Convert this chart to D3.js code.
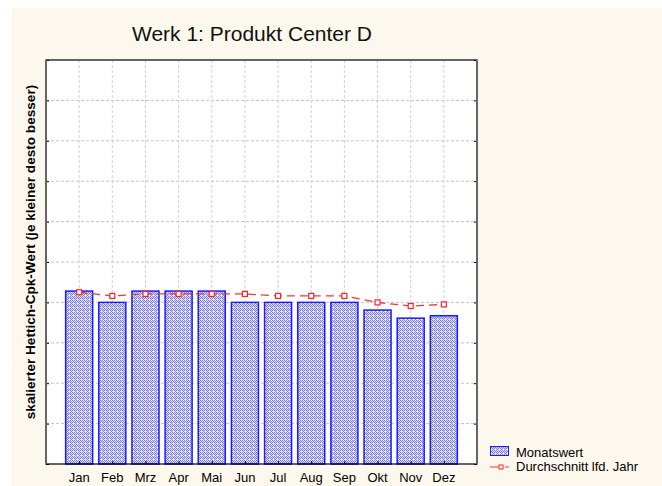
<!DOCTYPE html>
<html>
<head>
<meta charset="utf-8">
<script src="https://cdn.jsdelivr.net/npm/d3@7"></script>
<style>
body { margin: 0; background: #fff; }
svg { display: block; font-family: "Liberation Sans", Arial, sans-serif; }
</style>
</head>
<body>
<svg width="662" height="486"></svg>
<script>
var months = ["Jan", "Feb", "Mrz", "Apr", "Mai", "Jun", "Jul", "Aug", "Sep", "Okt", "Nov", "Dez"];
var monatswert = [4.28, 4.0, 4.28, 4.28, 4.28, 4.0, 4.0, 4.0, 4.0, 3.81, 3.61, 3.67];
var durchschnitt = [4.25, 4.16, 4.21, 4.21, 4.21, 4.21, 4.16, 4.16, 4.16, 4.0, 3.91, 3.95];
var yTicks = d3.range(0, 11);

var svg = d3.select("svg");
var plotLeft = 46, plotRight = 477, plotTop = 60, plotBottom = 464;

svg.append("rect").attr("x", 12).attr("y", 8).attr("width", 650).attr("height", 478).attr("fill", "#fdf8ee");
svg.append("rect").attr("x", plotLeft).attr("y", plotTop).attr("width", plotRight - plotLeft).attr("height", plotBottom - plotTop).attr("fill", "#fff");

// hatch for the bars
var defs = svg.append("defs");
var pat = defs.append("pattern").attr("id", "hatch").attr("patternUnits", "userSpaceOnUse")
	.attr("width", 4).attr("height", 4);
pat.append("rect").attr("width", 4).attr("height", 4).attr("fill", "#dadaff");
[[0,0],[1,1],[2,2],[3,3],[2,0],[3,1],[0,2]].forEach(function(p){
	pat.append("rect").attr("x", p[0]).attr("y", p[1]).attr("width", 1).attr("height", 1).attr("fill", "#7c7cf4");
});
pat.append("rect").attr("x", 1).attr("y", 3).attr("width", 1).attr("height", 1).attr("fill", "#fff");
pat.append("rect").attr("x", 3).attr("y", 0).attr("width", 1).attr("height", 1).attr("fill", "#fff");

var x = d3.scalePoint().domain(months).range([plotLeft, plotRight]).padding(1);
var y = d3.scaleLinear().domain([0, 10]).range([plotBottom, plotTop]);

// grid
svg.append("g").selectAll("line").data(yTicks.slice(1, -1)).enter().append("line")
	.attr("x1", plotLeft).attr("x2", plotRight).attr("y1", function(d){ return y(d); }).attr("y2", function(d){ return y(d); })
	.attr("stroke", "#c4c4c4").attr("stroke-dasharray", "3,2");
svg.append("g").selectAll("line").data(months).enter().append("line")
	.attr("y1", plotTop).attr("y2", plotBottom).attr("x1", function(d){ return x(d); }).attr("x2", function(d){ return x(d); })
	.attr("stroke", "#d0d0d0").attr("stroke-dasharray", "3,2");

// bars
var bw = 27;
svg.append("g").selectAll("rect").data(monatswert).enter().append("rect")
	.attr("x", function(d, i){ return x(months[i]) - bw/2; })
	.attr("y", function(d){ return y(d); })
	.attr("width", bw)
	.attr("height", function(d){ return plotBottom - y(d); })
	.attr("fill", "url(#hatch)").attr("stroke", "#1a1aff").attr("stroke-width", 1.5);

// average line
var line = d3.line().x(function(d, i){ return x(months[i]); }).y(function(d){ return y(d); });
svg.append("path").datum(durchschnitt).attr("d", line).attr("fill", "none")
	.attr("stroke", "#ff3030").attr("stroke-width", 1.3).attr("stroke-dasharray", "8,5");
svg.append("g").selectAll("rect").data(durchschnitt).enter().append("rect")
	.attr("x", function(d, i){ return x(months[i]) - 2.5; })
	.attr("y", function(d){ return y(d) - 2.5; })
	.attr("width", 5).attr("height", 5)
	.attr("fill", "#fff").attr("stroke", "#ff2020").attr("stroke-width", 1.2);

// frame and ticks
svg.append("g").attr("transform", "translate(" + plotLeft + ",0)")
	.call(d3.axisRight(y).tickValues(yTicks).tickSize(3).tickFormat(""))
	.call(function(g){ g.select(".domain").remove(); });
svg.append("g").attr("transform", "translate(" + plotRight + ",0)")
	.call(d3.axisLeft(y).tickValues(yTicks).tickSize(3).tickFormat(""))
	.call(function(g){ g.select(".domain").remove(); });
svg.append("g").attr("transform", "translate(0," + plotBottom + ")")
	.call(d3.axisTop(x).tickSize(3).tickFormat(""))
	.call(function(g){ g.select(".domain").remove(); });
svg.append("rect").attr("x", plotLeft).attr("y", plotTop).attr("width", plotRight - plotLeft).attr("height", plotBottom - plotTop)
	.attr("fill", "none").attr("stroke", "#000").attr("stroke-width", 1.2);
svg.append("line").attr("x1", plotLeft).attr("x2", plotLeft).attr("y1", plotTop).attr("y2", plotBottom)
	.attr("stroke", "#666").attr("stroke-width", 2);
svg.append("line").attr("x1", plotRight).attr("x2", plotRight).attr("y1", plotTop).attr("y2", plotBottom)
	.attr("stroke", "#666").attr("stroke-width", 2);

// month labels
svg.append("g").selectAll("text").data(months).enter().append("text")
	.attr("x", function(d){ return x(d); }).attr("y", 482)
	.attr("text-anchor", "middle").attr("font-size", 13).attr("fill", "#000")
	.text(function(d){ return d; });

// title and axis label
svg.append("text").attr("x", 252).attr("y", 41).attr("text-anchor", "middle")
	.attr("font-size", 21).attr("fill", "#111").text("Werk 1: Produkt Center D");
svg.append("text").attr("transform", "translate(35,252) rotate(-90)").attr("text-anchor", "middle")
	.attr("font-size", 13.6).attr("font-weight", "bold").attr("fill", "#000")
	.text("skalierter Hettich-Cpk-Wert (je kleiner desto besser)");

// legend
var lg = svg.append("g").attr("transform", "translate(490,446)");
lg.append("rect").attr("x", 0.5).attr("y", 0.5).attr("width", 18).attr("height", 9)
	.attr("fill", "url(#hatch)").attr("stroke", "#1a1aff");
lg.append("text").attr("x", 26).attr("y", 10.5).attr("font-size", 13).text("Monatswert");
lg.append("line").attr("x1", 0).attr("x2", 9).attr("y1", 21).attr("y2", 21).attr("stroke", "#ff3030");
lg.append("line").attr("x1", 15).attr("x2", 19).attr("y1", 21).attr("y2", 21).attr("stroke", "#ff3030");
lg.append("rect").attr("x", 9).attr("y", 19).attr("width", 4).attr("height", 4).attr("fill", "#fff").attr("stroke", "#ff2020");
lg.append("text").attr("x", 26).attr("y", 25).attr("font-size", 13).text("Durchschnitt lfd. Jahr");
</script>
</body>
</html>
